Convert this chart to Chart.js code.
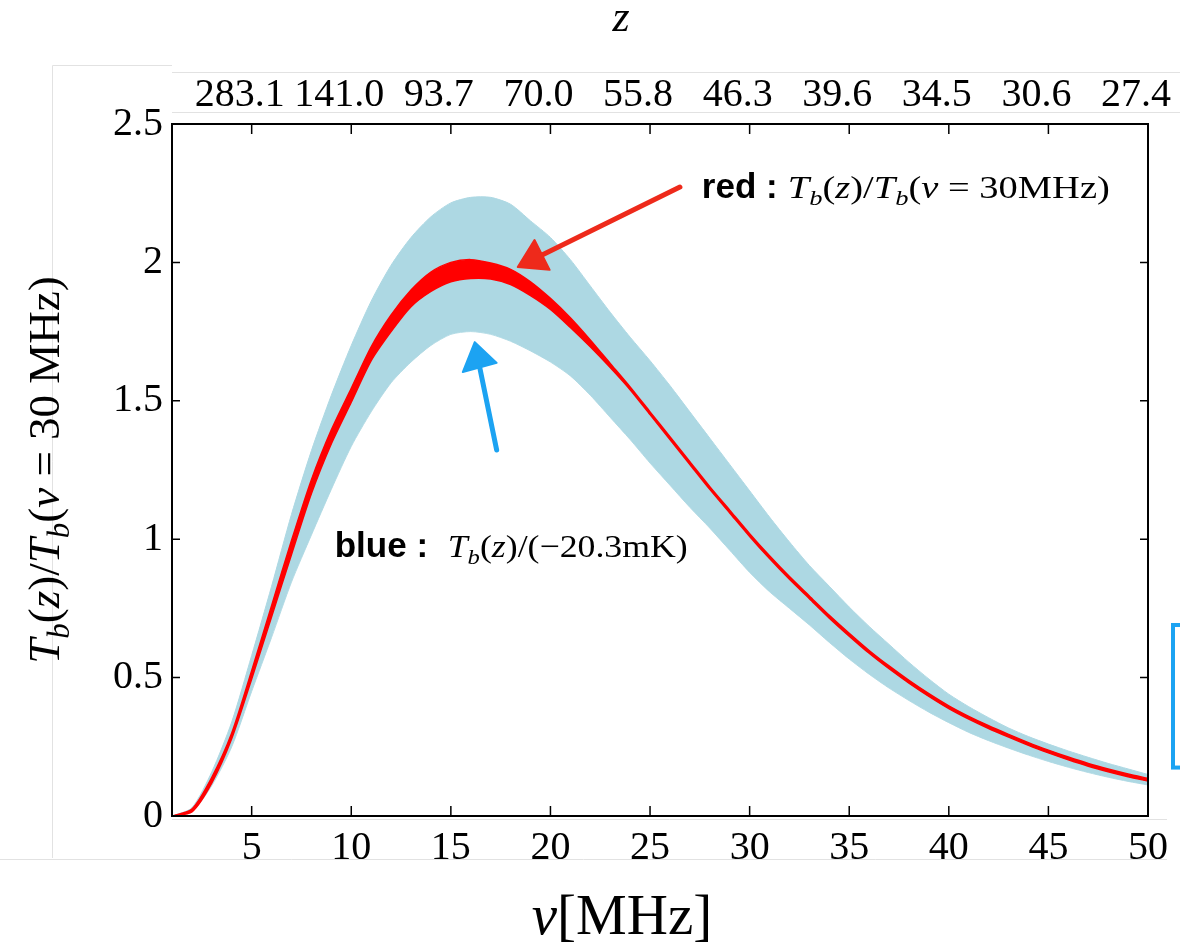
<!DOCTYPE html>
<html>
<head>
<meta charset="utf-8">
<title>Tb(z) normalised</title>
<script src="https://cdn.jsdelivr.net/npm/chart.js@4.4.1/dist/chart.umd.min.js"></script>
<style>
  html, body { margin: 0; padding: 0; background: #fff; }
  #wrap { width: 1180px; height: 945px; position: relative; }
</style>
</head>
<body>
<div id="wrap"><canvas id="tbChart"></canvas></div>
<script>
// frequency grid [MHz]
var nu = [1,2,3,4,5,6,7,8,9,10,11,12,13,14,15,16,17,18,19,20,21,22,23,24,25,
          26,27,28,29,30,31,32,33,34,35,36,37,38,39,40,41,42,43,44,45,46,47,48,49,50];

// blue band: Tb(z)/(-20.3 mK), upper and lower envelope
var blueHi = [0,0.03,0.16,0.34,0.58,0.83,1.09,1.32,1.52,1.70,1.86,1.99,2.09,2.165,2.215,2.235,2.235,2.21,2.15,2.09,
              2.01,1.915,1.82,1.73,1.645,1.555,1.46,1.365,1.27,1.175,1.08,0.99,0.905,0.83,0.755,0.685,0.62,0.555,0.495,0.44,
              0.395,0.355,0.318,0.287,0.26,0.235,0.212,0.19,0.17,0.15];
var blueLo = [0,0.015,0.11,0.25,0.45,0.645,0.845,1.015,1.18,1.335,1.46,1.565,1.64,1.70,1.74,1.75,1.74,1.715,1.68,1.64,
              1.59,1.52,1.44,1.36,1.275,1.195,1.115,1.04,0.96,0.88,0.81,0.75,0.69,0.627,0.567,0.512,0.462,0.417,0.375,0.337,
              0.302,0.272,0.245,0.22,0.197,0.176,0.157,0.14,0.125,0.112];

// red band: Tb(z)/Tb(nu = 30 MHz), upper and lower envelope
var redHi = [0,0.025,0.14,0.30,0.525,0.76,0.995,1.215,1.395,1.545,1.695,1.81,1.90,1.965,2.0,2.01,1.998,1.975,1.93,1.87,
             1.80,1.72,1.635,1.55,1.46,1.37,1.28,1.19,1.105,1.02,0.94,0.865,0.795,0.725,0.66,0.598,0.542,0.49,0.442,0.398,
             0.36,0.326,0.295,0.265,0.238,0.213,0.19,0.17,0.152,0.136];
var redLo = [0,0.015,0.12,0.28,0.495,0.72,0.945,1.165,1.345,1.495,1.645,1.75,1.84,1.895,1.93,1.942,1.94,1.92,1.88,1.83,
             1.765,1.695,1.62,1.54,1.45,1.36,1.27,1.18,1.095,1.01,0.93,0.855,0.785,0.715,0.65,0.588,0.532,0.48,0.432,0.388,
             0.35,0.316,0.285,0.255,0.228,0.203,0.18,0.16,0.142,0.126];

var xTicks = [5,10,15,20,25,30,35,40,45,50];
var zLabels = ["283.1","141.0","93.7","70.0","55.8","46.3","39.6","34.5","30.6","27.4"];
var yTicks = [0,0.5,1,1.5,2,2.5];

var SERIF = '"Liberation Serif", "Times New Roman", Times, serif';
var SANS = '"Liberation Sans", Arial, Helvetica, sans-serif';

function pts(arr) {
  return nu.map(function (v, i) { return { x: v, y: arr[i] }; });
}
function it(s) { return "italic " + s + "px " + SERIF; }
function rm(s) { return s + "px " + SERIF; }
function tbz(s) {
  return [["T", it(s)], ["b", it(Math.round(s * 0.7)), s * 0.22], ["(", rm(s)], ["z", it(s)], [")", rm(s)]];
}
function tb(s) {
  return [["T", it(s)], ["b", it(Math.round(s * 0.7)), s * 0.22]];
}

// draws mixed-font text; optional width stretches it horizontally
function drawRich(c, segs, x, y, align, width) {
  var w = 0;
  segs.forEach(function (s) { c.font = s[1]; w += c.measureText(s[0]).width; });
  var sx = width ? width / w : 1;
  c.save();
  c.translate(align === "center" ? x - w * sx / 2 : x, y);
  c.scale(sx, 1);
  var cx = 0;
  segs.forEach(function (s) {
    c.font = s[1];
    c.fillText(s[0], cx, s[2] || 0);
    cx += c.measureText(s[0]).width;
  });
  c.restore();
}

function arrow(c, xs, ys, tail, tip, b1, b2, color) {
  var P = function (p) { return [xs.getPixelForValue(p[0]), ys.getPixelForValue(p[1])]; };
  var t = P(tail), a = P(tip), p1 = P(b1), p2 = P(b2);
  c.save();
  c.strokeStyle = color;
  c.fillStyle = color;
  c.lineWidth = 5;
  c.lineCap = "round";
  c.beginPath();
  c.moveTo(t[0], t[1]);
  c.lineTo((p1[0] + p2[0]) / 2, (p1[1] + p2[1]) / 2);
  c.stroke();
  c.lineJoin = "round";
  c.lineWidth = 2;
  c.beginPath();
  c.moveTo(a[0], a[1]);
  c.lineTo(p1[0], p1[1]);
  c.lineTo(p2[0], p2[1]);
  c.closePath();
  c.fill();
  c.stroke();
  c.restore();
}

var decor = {
  id: "decor",
  afterDatasetsDraw: function (chart) {
    var c = chart.ctx, a = chart.chartArea;
    var xs = chart.scales.x, ys = chart.scales.y;
    c.save();
    c.strokeStyle = "#000";
    c.lineWidth = 2;
    c.strokeRect(a.left, a.top, a.right - a.left, a.bottom - a.top);
    c.lineWidth = 1.5;
    c.beginPath();
    xTicks.forEach(function (v) {
      var px = xs.getPixelForValue(v);
      c.moveTo(px, a.bottom); c.lineTo(px, a.bottom - 10);
      c.moveTo(px, a.top); c.lineTo(px, a.top + 10);
    });
    yTicks.forEach(function (v) {
      var py = ys.getPixelForValue(v);
      c.moveTo(a.left, py); c.lineTo(a.left + 8, py);
      c.moveTo(a.right, py); c.lineTo(a.right - 8, py);
    });
    c.stroke();
    c.restore();
  },
  afterDraw: function (chart) {
    var c = chart.ctx, a = chart.chartArea;
    var xs = chart.scales.x, ys = chart.scales.y;
    c.save();

    // faint edges of the pasted panels
    c.strokeStyle = "#e2e2e2";
    c.lineWidth = 1;
    c.beginPath();
    c.moveTo(52.5, 65.5); c.lineTo(a.left, 65.5);
    c.moveTo(52.5, 65.5); c.lineTo(52.5, 858);
    c.moveTo(a.left, 72.5); c.lineTo(1180, 72.5);
    c.moveTo(a.left, 112.5); c.lineTo(1180, 112.5);
    c.moveTo(a.left, a.bottom + 3.5); c.lineTo(a.right + 19, a.bottom + 3.5);
    c.moveTo(0, 859.5); c.lineTo(a.right + 19, 859.5);
    c.stroke();

    c.fillStyle = "#000";
    c.textBaseline = "alphabetic";

    // y title (rotated)
    c.save();
    c.translate(a.left - 113, (a.top + a.bottom) / 2);
    c.rotate(-Math.PI / 2);
    drawRich(c, tbz(45).concat([["/", rm(45)]], tb(45), [["(", rm(45)], ["\u03bd", it(45)], [" = 30 MHz)", rm(45)]]),
             0, 0, "center");
    c.restore();

    // x title and top title
    drawRich(c, [["\u03bd", it(57)], ["[MHz]", rm(57)]], 622, 934, "center");
    drawRich(c, [["z", it(44)]], 621, 31, "center");

    // annotations
    var rx = xs.getPixelForValue(27.6), ry = ys.getPixelForValue(2.233);
    c.font = "bold 35px " + SANS;
    c.fillText("red :", rx, ry);
    drawRich(c, tbz(32).concat([["/", rm(32)]], tb(32), [["(", rm(32)], ["\u03bd", it(32)], [" = 30MHz)", rm(32)]]),
             rx + 86, ry, "left", 322);

    var bx = xs.getPixelForValue(9.17), by = ys.getPixelForValue(0.936);
    c.font = "bold 35px " + SANS;
    c.fillText("blue :", bx, by);
    drawRich(c, tbz(32).concat([["/(\u221220.3mK)", rm(32)]]), bx + 113, by, "left", 240);

    arrow(c, xs, ys, [26.5, 2.272], [18.36, 1.983], [19.2, 2.081], [19.96, 1.973], "#ee2a1b");
    arrow(c, xs, ys, [17.3, 1.322], [16.2, 1.712], [15.6, 1.604], [17.3, 1.637], "#1ca3f2");

    // stray blue scribble at the right edge
    c.strokeStyle = "#1ca3f2";
    c.lineWidth = 4;
    c.strokeRect(a.right + 25, ys.getPixelForValue(0.69), 20, ys.getPixelForValue(0.175) - ys.getPixelForValue(0.69));
    c.restore();
  }
};

var ctx = document.getElementById("tbChart");

new Chart(ctx, {
  type: "line",
  data: {
    datasets: [
      {
        label: "red hi",
        data: pts(redHi),
        borderColor: "#ff0000",
        backgroundColor: "#ff0000",
        borderWidth: 1.5,
        fill: "+1"
      },
      {
        label: "red lo",
        data: pts(redLo),
        borderColor: "#ff0000",
        borderWidth: 1.5,
        fill: false
      },
      {
        label: "blue hi",
        data: pts(blueHi),
        borderColor: "#add8e3",
        backgroundColor: "#add8e3",
        borderWidth: 1,
        fill: "+1"
      },
      {
        label: "blue lo",
        data: pts(blueLo),
        borderColor: "#b8dde6",
        borderWidth: 1,
        fill: false
      }
    ]
  },
  options: {
    responsive: true,
    maintainAspectRatio: false,
    animation: false,
    layout: { padding: { left: 0, right: 32, top: 0, bottom: 0 } },
    elements: { point: { radius: 0 }, line: { tension: 0.25 } },
    plugins: {
      legend: { display: false },
      tooltip: { enabled: false }
    },
    scales: {
      x: {
        type: "linear",
        position: "bottom",
        min: 1,
        max: 50,
        afterBuildTicks: function (s) { s.ticks = xTicks.map(function (v) { return { value: v }; }); },
        afterFit: function (s) { s.height = 129; s.paddingLeft = 0; s.paddingRight = 0; },
        grid: { display: false, drawTicks: false },
        border: { display: false },
        ticks: { color: "#000", font: { family: SERIF, size: 40 }, padding: 8, maxRotation: 0, autoSkip: false }
      },
      x2: {
        type: "linear",
        position: "top",
        min: 1,
        max: 50,
        afterBuildTicks: function (s) { s.ticks = xTicks.map(function (v) { return { value: v }; }); },
        afterFit: function (s) { s.height = 124; s.paddingLeft = 0; s.paddingRight = 0; },
        grid: { display: false, drawTicks: false },
        border: { display: false },
        ticks: {
          color: "#000",
          font: { family: SERIF, size: 40 },
          padding: 5,
          labelOffset: -12,
          maxRotation: 0,
          autoSkip: false,
          callback: function (v) { return zLabels[xTicks.indexOf(v)]; }
        }
      },
      y: {
        min: 0,
        max: 2.5,
        afterBuildTicks: function (s) { s.ticks = yTicks.map(function (v) { return { value: v }; }); },
        afterFit: function (s) { s.width = 172; s.paddingTop = 0; s.paddingBottom = 0; },
        grid: { display: false, drawTicks: false },
        border: { display: false },
        ticks: {
          color: "#000",
          font: { family: SERIF, size: 40 },
          padding: 9,
          callback: function (v) { return String(v); }
        }
      }
    }
  },
  plugins: [decor]
});
</script>
</body>
</html>
